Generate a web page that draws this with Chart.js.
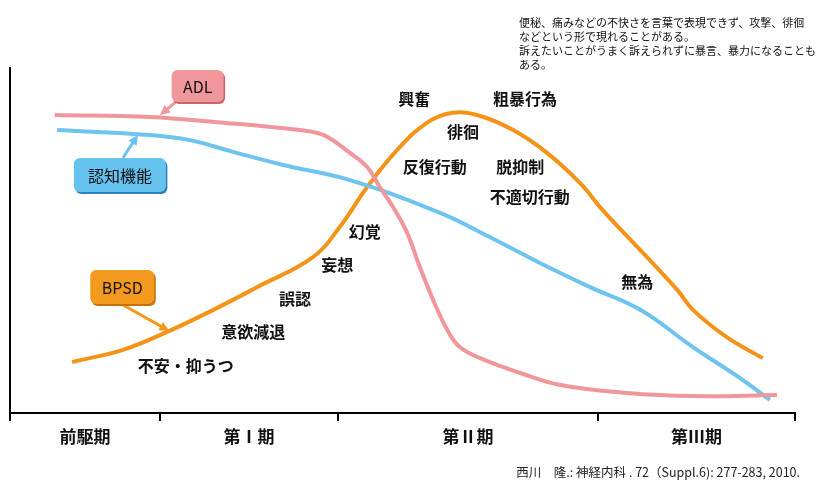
<!DOCTYPE html>
<html lang="ja">
<head>
<meta charset="utf-8">
<script src="https://cdn.jsdelivr.net/npm/chart.js@4.4.1/dist/chart.umd.min.js"></script>
<style>
  html, body { margin: 0; padding: 0; background: #fff; }
  #wrap { position: relative; width: 816px; height: 481px; }
  #note { position: absolute; left: 519px; top: 15px; font: 11px "Noto Sans CJK JP"; line-height: 14px; color: #111; white-space: nowrap; }
  #cite { position: absolute; right: 16px; top: 462px; font: 12.5px "Noto Sans CJK JP"; color: #222; white-space: nowrap; }
</style>
</head>
<body>
<div id="wrap">
  <canvas id="stage" width="816" height="481"></canvas>
  <div id="note">便秘、痛みなどの不快さを言葉で表現できず、攻撃、徘徊<br>などという形で現れることがある。<br>訴えたいことがうまく訴えられずに暴言、暴力になることも<br>ある。</div>
  <div id="cite">西川　隆.: 神経内科 . 72（Suppl.6): 277-283, 2010.</div>
</div>
<script>
// time runs 0..100 over the four phases, level 0..100 upwards
const phaseNames = ['前駆期', '第Ⅰ期', '第Ⅱ期', '第Ⅲ期']
const phaseEdges = [0, 19.1, 41.8, 74.9, 100]

// ADL
const adlX = [5.7, 17.8, 26.4, 36.9, 39.9, 43.3, 45.5, 47.1, 48.8, 50.6, 52.2, 53.9, 55.7, 57.3, 59.9, 65.0, 70.1, 78.6, 87.0, 97.7]
const adlY = [86.4, 85.8, 84.3, 82.0, 80.6, 75.4, 71.3, 65.5, 59.7, 52.2, 42.3, 32.8, 24.1, 19.1, 15.9, 11.6, 8.1, 5.8, 4.9, 5.2]

// 認知機能
const cogX = [6.0, 17.8, 22.9, 28.4, 34.8, 43.3, 54.8, 61.1, 67.5, 73.9, 80.3, 87.0, 93.0, 96.8]
const cogY = [82.0, 80.6, 79.1, 75.7, 71.9, 67.5, 58.0, 51.0, 43.5, 36.5, 29.9, 19.1, 10.1, 3.8]

// BPSD
const bpsdX = [7.9, 14.4, 20.0, 25.9, 31.5, 38.6, 42.0, 45.5, 49.3, 53.1, 56.4, 59.9, 64.1, 68.4, 72.6, 75.5, 80.3, 85.0, 87.0, 91.3, 95.9]
const bpsdY = [14.8, 18.3, 23.5, 29.9, 36.5, 45.2, 53.9, 65.5, 76.2, 84.1, 87.0, 86.1, 82.0, 75.4, 66.7, 58.8, 47.2, 35.7, 29.9, 22.0, 15.9]

// symptom words along the BPSD curve
const symptomText = ['興奮', '粗暴行為', '徘徊', '反復行動', '脱抑制', '不適切行動', '幻覚', '妄想', '誤認', '意欲減退', '不安・抑うつ', '無為']
const symptomX = [51.5, 65.6, 57.7, 54.1, 65.0, 66.2, 45.2, 41.7, 36.3, 31.0, 22.4, 79.9]
const symptomY = [91.0, 91.0, 81.4, 71.3, 71.3, 62.6, 52.5, 42.9, 33.0, 23.5, 13.6, 38.0]

const pair = (xs, ys) => xs.map((x, i) => ({ x: x, y: ys[i] }))

// callout boxes: centre in data units, size in px, arrow from/to in data units
const callouts = [
  { text: 'ADL', cx: 23.9, cy: 94.8, w: 52, h: 32, fill: '#f0979b', dark: '#c8686e', from: [21.1, 90.1], to: [19.1, 86.4] },
  { text: '認知機能', cx: 14.0, cy: 69.0, w: 92, h: 34, fill: '#66c2ef', dark: '#2f80b8', from: [14.4, 74.0], to: [16.3, 80.6] },
  { text: 'BPSD', cx: 14.3, cy: 36.5, w: 64, h: 34, fill: '#f39a1e', dark: '#c4700d', from: [14.4, 31.3], to: [20.3, 23.8] }
]

function arrow(ctx, x1, y1, x2, y2, color) {
  const a = Math.atan2(y2 - y1, x2 - x1)
  const head = 11
  ctx.save()
  ctx.strokeStyle = color
  ctx.fillStyle = color
  ctx.lineWidth = 3
  ctx.beginPath()
  ctx.moveTo(x1, y1)
  ctx.lineTo(x2 - Math.cos(a) * head * 0.8, y2 - Math.sin(a) * head * 0.8)
  ctx.stroke()
  ctx.beginPath()
  ctx.moveTo(x2, y2)
  ctx.lineTo(x2 - head * Math.cos(a - 0.45), y2 - head * Math.sin(a - 0.45))
  ctx.lineTo(x2 - head * Math.cos(a + 0.45), y2 - head * Math.sin(a + 0.45))
  ctx.closePath()
  ctx.fill()
  ctx.restore()
}

const decorations = {
  id: 'decorations',
  afterDatasetsDraw(chart) {
    const ctx = chart.ctx
    const xs = chart.scales.x
    const ys = chart.scales.y
    const area = chart.chartArea

    // phase names under the axis
    ctx.save()
    ctx.fillStyle = '#111'
    ctx.font = 'bold 17px "Noto Sans CJK JP"'
    ctx.textAlign = 'center'
    ctx.textBaseline = 'middle'
    for (let i = 0; i < phaseNames.length; i++) {
      const mid = (xs.getPixelForValue(phaseEdges[i]) + xs.getPixelForValue(phaseEdges[i + 1])) / 2
      ctx.fillText(phaseNames[i], mid, area.bottom + 24)
    }

    // symptoms
    ctx.font = 'bold 16px "Noto Sans CJK JP"'
    for (let i = 0; i < symptomText.length; i++) {
      ctx.fillText(symptomText[i], xs.getPixelForValue(symptomX[i]), ys.getPixelForValue(symptomY[i]))
    }
    ctx.restore()

    // callouts
    callouts.forEach(c => {
      arrow(ctx, xs.getPixelForValue(c.from[0]), ys.getPixelForValue(c.from[1]),
        xs.getPixelForValue(c.to[0]), ys.getPixelForValue(c.to[1]), c.fill)
      const px = xs.getPixelForValue(c.cx)
      const py = ys.getPixelForValue(c.cy)
      const left = px - c.w / 2
      const top = py - c.h / 2
      ctx.save()
      ctx.fillStyle = c.dark
      ctx.beginPath()
      ctx.roundRect(left + 1.5, top + 2, c.w, c.h, 6)
      ctx.fill()
      ctx.fillStyle = c.fill
      ctx.beginPath()
      ctx.roundRect(left, top, c.w, c.h, 6)
      ctx.fill()
      ctx.fillStyle = '#111'
      ctx.font = '16px "Noto Sans CJK JP"'
      ctx.textAlign = 'center'
      ctx.textBaseline = 'middle'
      ctx.fillText(c.text, px, py + 1)
      ctx.restore()
    })
  }
}

const lineData = {
  datasets: [
    { label: 'ADL', data: pair(adlX, adlY), borderColor: '#f1979b', order: 1 },
    { label: '認知機能', data: pair(cogX, cogY), borderColor: '#6ec4ef', order: 2 },
    { label: 'BPSD', data: pair(bpsdX, bpsdY), borderColor: '#f39419', order: 3 }
  ]
}
lineData.datasets.forEach(d => {
  d.borderWidth = 4
  d.pointRadius = 0
  d.tension = 0.4
  d.fill = false
})

const myChart = new Chart(document.getElementById('stage'), {
  type: 'line',
  data: lineData,
  options: {
    responsive: false,
    animation: false,
    layout: { padding: { left: 10, right: 21, top: 68, bottom: 60 } },
    plugins: { legend: { display: false }, tooltip: { enabled: false } },
    scales: {
      x: {
        type: 'linear', min: 0, max: 100,
        afterBuildTicks: s => { s.ticks = phaseEdges.map(v => ({ value: v })) },
        ticks: { display: false },
        grid: { drawOnChartArea: false, drawTicks: true, tickLength: 8, color: '#000', lineWidth: 2 },
        border: { display: true, color: '#000', width: 2 }
      },
      y: {
        min: 0, max: 100,
        ticks: { display: false },
        grid: { display: false, drawTicks: false },
        border: { display: true, color: '#000', width: 2 }
      }
    }
  },
  plugins: [decorations]
})
</script>
</body>
</html>
